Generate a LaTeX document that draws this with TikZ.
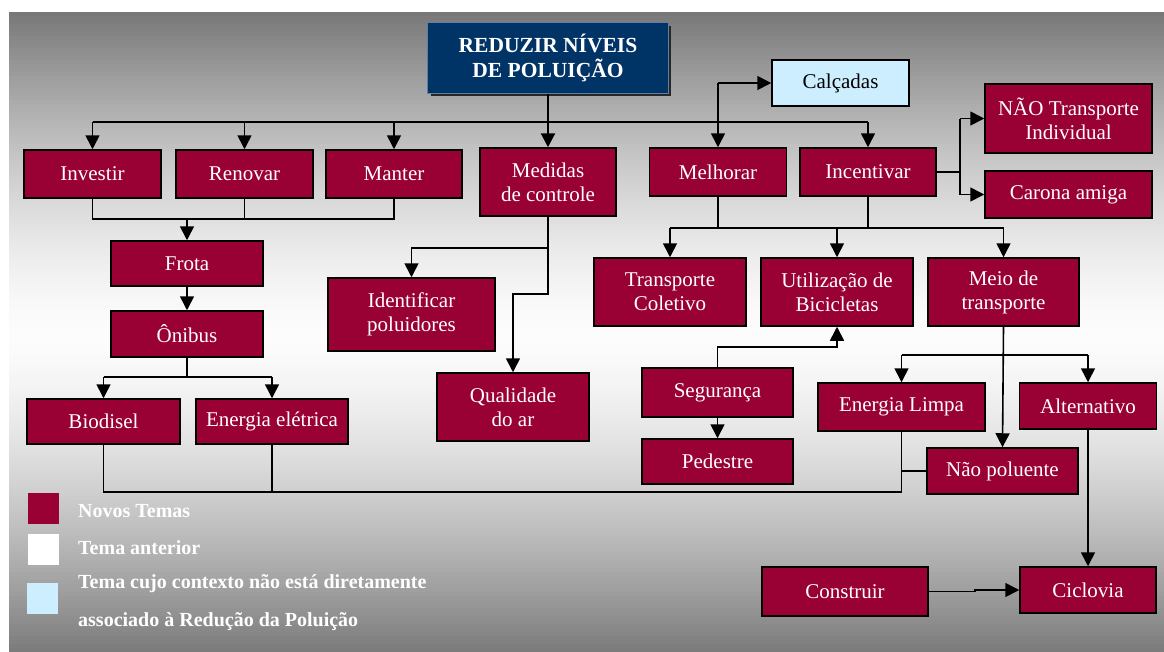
\documentclass[tikz,border=0pt]{standalone}
\usepackage{fontspec}
\setmainfont{Liberation Serif}
\usetikzlibrary{arrows.meta,calc}
\definecolor{maroon}{HTML}{990033}
\definecolor{navy}{HTML}{003366}
\definecolor{navyedge}{HTML}{5F80A6}
\definecolor{skyb}{HTML}{CCEEFF}
\definecolor{bgdark}{HTML}{777777}
\definecolor{bglight}{HTML}{FCFCFC}
\tikzset{
  box/.style={draw=black, line width=1.5pt, fill=maroon, text=white,
    font=\fontsize{21}{24}\selectfont, align=center, inner sep=0pt},
  lightbox/.style={box, fill=skyb, text=black},
  conn/.style={line width=1.6pt, draw=black},
  arr/.style={conn, -{Triangle[length=14pt,width=14pt]}},
  legsq/.style={inner sep=0pt, minimum width=31pt, minimum height=31pt},
  legtxt/.style={text=white, anchor=west, inner sep=0pt,
    font=\fontsize{20}{24}\selectfont\bfseries},
}
\begin{document}
\begin{tikzpicture}[x=1pt,y=-1pt]
\useasboundingbox (0,0) rectangle (1164,651);
\fill[white] (0,0) rectangle (1164,651);
% vertical gradient background (strips)
\foreach \i in {0,...,159} {
  \pgfmathsetmacro\yy{12+\i*4}
  \pgfmathsetmacro\tt{min(100,100*(abs(\yy+2-335)/323)^1.5)}
  \fill[bgdark!\tt!bglight] (9,\yy) rectangle (1164,\yy+4.6);
}

% title
\fill[black!85] (431,26) rectangle (671,96);
\node[draw=navyedge, line width=1pt, fill=navy, text=white, inner sep=0pt,
  minimum width=241pt, minimum height=71pt, align=center,
  font=\fontsize{21.5}{25}\selectfont\bfseries] (title) at (548,57.5) {REDUZIR NÍVEIS\\DE POLUIÇÃO};

% row 1
\node[box, minimum width=137pt, minimum height=48pt] (investir) at (92.5,174) {Investir};
\node[box, minimum width=137pt, minimum height=48pt] (renovar) at (244.5,174) {Renovar};
\node[box, minimum width=136pt, minimum height=48pt] (manter) at (394,174) {Manter};
\node[box, minimum width=136pt, minimum height=68pt] (medidas) at (548,182) {Medidas\\de controle};
\node[box, minimum width=137pt, minimum height=48pt] (melhorar) at (718,172) {Melhorar};
\node[box, minimum width=136pt, minimum height=48pt] (incentivar) at (868,172) {Incentivar};
\node[lightbox, minimum width=137pt, minimum height=46pt] (calcadas) at (840.5,83) {Calçadas};
\node[box, minimum width=167pt, minimum height=69pt] (naoti) at (1068.5,118.5) {NÃO Transporte\\Individual};
\node[box, minimum width=167pt, minimum height=47pt] (carona) at (1068.5,194.5) {Carona amiga};

% left column
\node[box, minimum width=152pt, minimum height=45pt] (frota) at (187,263.5) {Frota};
\node[box, minimum width=152pt, minimum height=46pt] (onibus) at (187,334) {Ônibus};
\node[box, minimum width=153pt, minimum height=45pt] (biodisel) at (103.5,421.5) {Biodisel};
\node[box, minimum width=152pt, minimum height=45pt] (eletrica) at (272,421.5) {Energia elétrica};

% middle
\node[box, minimum width=167pt, minimum height=73pt] (identificar) at (411.5,314.5) {Identificar\\poluidores};
\node[box, minimum width=152pt, minimum height=68pt] (qualidade) at (513,407) {Qualidade\\do ar};

% right
\node[box, minimum width=152pt, minimum height=68pt] (transporte) at (670,292) {Transporte\\Coletivo};
\node[box, minimum width=152pt, minimum height=68pt] (bicicletas) at (837,292) {Utilização de\\Bicicletas};
\node[box, minimum width=151pt, minimum height=68pt] (meio) at (1003.5,292) {Meio de\\transporte};
\node[box, minimum width=151pt, minimum height=49pt] (seguranca) at (717.5,392.5) {Segurança};
\node[box, minimum width=151pt, minimum height=45pt] (pedestre) at (717.5,461.5) {Pedestre};
\node[box, minimum width=167pt, minimum height=48pt] (limpa) at (901.5,407) {Energia Limpa};
\node[box, minimum width=137pt, minimum height=46pt] (alternativo) at (1088,406) {Alternativo};
\node[box, minimum width=151pt, minimum height=46pt] (naopoluente) at (1002.5,471) {Não poluente};
\node[box, minimum width=166pt, minimum height=49pt] (construir) at (845,591.5) {Construir};
\node[box, minimum width=136pt, minimum height=46pt] (ciclovia) at (1088,590) {Ciclovia};

% helper coordinates (levels)
\coordinate (busY) at (0,122);
\coordinate (lowbus) at (0,219);
\coordinate (obus) at (0,377);
\coordinate (ybot) at (0,492);
\coordinate (m1) at (0,248);
\coordinate (m2) at (0,294);
\coordinate (y228) at (0,228);
\coordinate (y347) at (0,347);
\coordinate (y355) at (0,355);
\coordinate (ir) at (960,172);

% title connectors
\draw[arr, line width=2.2pt] (title.south) -- (medidas.north);
\draw[conn] (investir.north |- busY) -- (incentivar.north |- busY);
\draw[arr] (investir.north |- busY) -- (investir.north);
\draw[arr] (renovar.north |- busY) -- (renovar.north);
\draw[arr] (manter.north |- busY) -- (manter.north);
\draw[arr] (melhorar.north |- calcadas) -- (melhorar.north);
\draw[arr] (melhorar.north |- calcadas) -- (calcadas.west);
\draw[arr] (incentivar.north |- busY) -- (incentivar.north);

% incentivar right
\draw[conn] (incentivar.east) -- (ir);
\draw[conn] (ir |- naoti) -- (ir |- carona);
\draw[arr] (ir |- naoti) -- (naoti.west);
\draw[arr] (ir |- carona) -- (carona.west);

% left tree
\draw[conn] (investir.south) -- (investir.south |- lowbus) -- (manter.south |- lowbus) -- (manter.south);
\draw[conn] (renovar.south) -- (renovar.south |- lowbus);
\draw[arr] (frota.north |- lowbus) -- (frota.north);
\draw[arr] (frota) -- (onibus);
\draw[conn] (onibus.south) -- (onibus.south |- obus);
\draw[conn] (biodisel.north |- obus) -- (eletrica.north |- obus);
\draw[arr] (biodisel.north |- obus) -- (biodisel.north);
\draw[arr] (eletrica.north |- obus) -- (eletrica.north);
\draw[conn] (biodisel.south) -- (biodisel.south |- ybot) -- (limpa.south |- ybot) -- (limpa.south);
\draw[conn] (eletrica.south) -- (eletrica.south |- ybot);
\draw[conn] (limpa.south |- naopoluente) -- (naopoluente.west);

% medidas
\draw[arr] (medidas.south) -- (medidas.south |- m2) -- (qualidade.north |- m2) -- (qualidade.north);
\draw[arr] (medidas.south |- m1) -- (identificar.north |- m1) -- (identificar.north);

% melhorar / incentivar down
\draw[conn] (melhorar.south) -- (melhorar.south |- y228);
\draw[conn] (incentivar.south) -- (incentivar.south |- y228);
\draw[conn] (transporte.north |- y228) -- (meio.north |- y228);
\draw[arr] (transporte.north |- y228) -- (transporte.north);
\draw[arr] (bicicletas.north |- y228) -- (bicicletas.north);
\draw[arr] (meio.north |- y228) -- (meio.north);

% seguranca
\draw[arr] (seguranca.north) -- (seguranca.north |- y347) -- (bicicletas.south |- y347) -- (bicicletas.south);
\draw[arr] (seguranca) -- (pedestre);

% meio de transporte
\draw[arr] (meio.south) -- (naopoluente.north);
\draw[conn] (limpa.north |- y355) -- (alternativo.north |- y355);
\draw[arr] (limpa.north |- y355) -- (limpa.north);
\draw[arr] (alternativo.north |- y355) -- (alternativo.north);
\draw[arr] (alternativo.south) -- (ciclovia.north);
\draw[arr] (construir.east) -- ++(46,0) |- (ciclovia.west);

% legend
\node[legsq, fill=maroon] (lg1) at (43.5,508.5) {};
\node[legsq, fill=white] (lg2) at (43.5,549.5) {};
\node[legsq, fill=skyb] (lg3) at (42.5,598.5) {};
\node[legtxt] (lt1) at (78,511) {Novos Temas};
\node[legtxt] (lt2) at (78,548) {Tema anterior};
\node[legtxt] (lt3) at (78,584) {Tema cujo contexto não está diretamente};
\node[legtxt] (lt4) at (78,622) {associado à Redução da Poluição};
\end{tikzpicture}
\end{document}
